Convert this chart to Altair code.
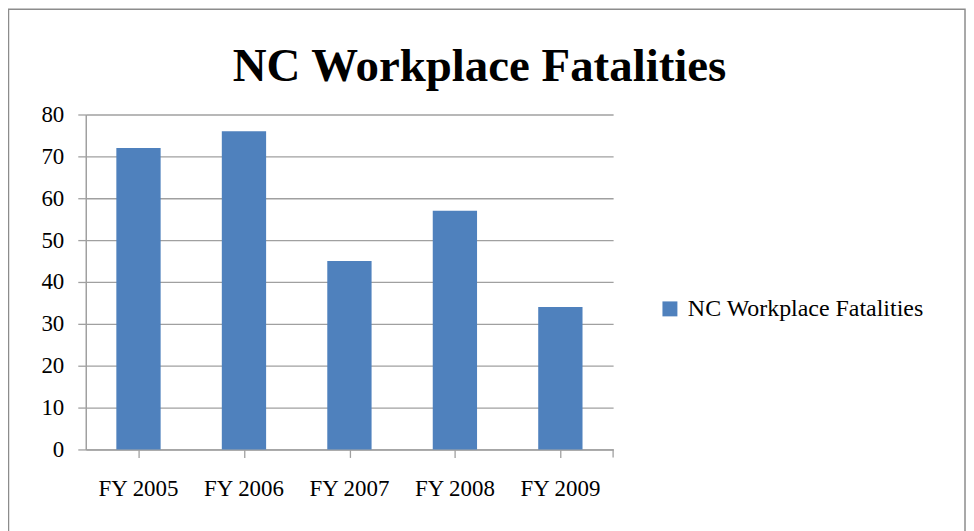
import altair as alt
import pandas as pd

categories = ["FY 2005", "FY 2006", "FY 2007", "FY 2008", "FY 2009"]
values = [72, 76, 45, 57, 34]
series_name = "NC Workplace Fatalities"
y_ticks = [0, 10, 20, 30, 40, 50, 60, 70, 80]

df = pd.DataFrame({"year": categories, "value": values, "series": [series_name] * len(categories)})

W, H = 529, 336
FONT = "Times New Roman, Liberation Serif, serif"
GRID = "#A0A0A0"
BLUE = "#4F81BD"

yscale = alt.Scale(domain=[0, 80], nice=False)
yaxis = alt.Axis(values=y_ticks, labelFont=FONT, labelFontSize=23, labelColor="#000000",
                 labelPadding=14, tickSize=8, tickColor=GRID, domainColor=GRID,
                 gridColor=GRID, gridWidth=1.3, domainWidth=1.5, tickWidth=1.3)

base = alt.Chart(df)

bars = base.mark_bar(color=BLUE).encode(
    x=alt.X("year:N", sort=categories, title=None,
            scale=alt.Scale(paddingInner=0.58, paddingOuter=0.29),
            axis=alt.Axis(labelAngle=0, labelFont=FONT, labelFontSize=23, labelColor="#000000",
                          labelBaseline="alphabetic", labelPadding=46, ticks=False,
                          domainColor=GRID, domainWidth=1.5, orient="bottom")),
    y=alt.Y("value:Q", title=None, scale=yscale, axis=yaxis),
    color=alt.Color("series:N", scale=alt.Scale(range=[BLUE]),
                    legend=alt.Legend(title=None, orient="none", legendX=574, legendY=183,
                                      symbolType="square", symbolSize=225, symbolStrokeWidth=0,
                                      labelFont=FONT, labelFontSize=24, labelColor="#000000",
                                      labelOffset=6, padding=0, labelLimit=0)),
)

ticks_layer = base.mark_point(opacity=0).encode(
    x=alt.X("year:N", sort=categories, title=None,
            scale=alt.Scale(paddingInner=0.58, paddingOuter=0.29),
            axis=alt.Axis(labels=False, ticks=True, domain=False, bandPosition=0, tickSize=8,
                          tickColor=GRID, tickWidth=1.3, orient="bottom")),
    y=alt.Y("value:Q", title=None, scale=yscale, axis=yaxis),
)

end_tick = alt.Chart(pd.DataFrame({"k": [0]})).mark_rule(color=GRID, strokeWidth=1.3).encode(
    x=alt.value(W), y=alt.value(H), y2=alt.value(H + 8)
)

border = alt.Chart(pd.DataFrame({"k": [0]})).mark_rect(
    fill=None, stroke="#8C8C8C", strokeWidth=1.5
).encode(
    x=alt.value(-77.5), x2=alt.value(882), y=alt.value(-105.5), y2=alt.value(H + 120)
)

title = alt.Chart(pd.DataFrame({"t": [series_name]})).mark_text(
    font=FONT, fontSize=47, fontWeight="bold", color="#000000", align="center", baseline="alphabetic"
).encode(text="t:N", x=alt.value(395), y=alt.value(-34))

chart = alt.layer(border, bars, ticks_layer, end_tick, title).resolve_scale(x="independent").properties(
    width=W, height=H,
    padding={"left": 78, "top": 106, "right": 354, "bottom": 88},
    autosize=alt.AutoSizeParams(type="none"),
    background="white",
).configure_view(stroke=None)

chart.save("out.html", embed_options={"renderer": "svg", "actions": False})
